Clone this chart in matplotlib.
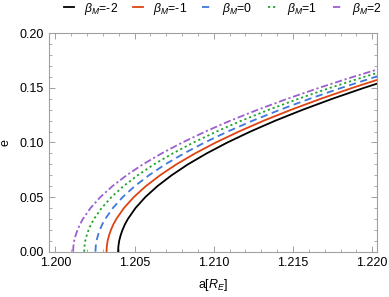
import matplotlib
matplotlib.use("Agg")
import matplotlib.pyplot as plt
from matplotlib.ticker import MultipleLocator

plt.rcParams['font.family'] = ['Liberation Sans', 'DejaVu Sans']
plt.rcParams['mathtext.fontset'] = 'custom'
plt.rcParams['mathtext.rm'] = 'Liberation Sans'
plt.rcParams['mathtext.it'] = 'Liberation Sans:italic'

# eccentricity levels (shared) and semi-major axis
e_vals = [0.0, 0.005, 0.01, 0.015, 0.02, 0.025, 0.03, 0.04, 0.05, 0.06, 0.07,
          0.08, 0.09, 0.10, 0.11, 0.12, 0.13, 0.14, 0.15, 0.16, 0.17]
a_m2 = [1.20396, 1.20398, 1.20403, 1.20412, 1.20424, 1.20439, 1.20458, 1.20506, 1.20568, 1.20644, 1.20734,
        1.20837, 1.20955, 1.21086, 1.21231, 1.21389, 1.21562, 1.21748, 1.21948, 1.22162, 1.22389]
a_m1 = [1.20323, 1.20325, 1.20330, 1.20339, 1.20351, 1.20366, 1.20385, 1.20433, 1.20495, 1.20571, 1.20661,
        1.20764, 1.20882, 1.21013, 1.21158, 1.21316, 1.21489, 1.21675, 1.21875, 1.22089, 1.22316]
a_0 = [1.20253, 1.20255, 1.20260, 1.20269, 1.20281, 1.20296, 1.20315, 1.20363, 1.20425, 1.20501, 1.20591,
       1.20694, 1.20812, 1.20943, 1.21088, 1.21246, 1.21419, 1.21605, 1.21805, 1.22019, 1.22246]
a_p1 = [1.20182, 1.20184, 1.20189, 1.20198, 1.20210, 1.20225, 1.20244, 1.20292, 1.20354, 1.20430, 1.20520,
        1.20623, 1.20741, 1.20872, 1.21017, 1.21175, 1.21348, 1.21534, 1.21734, 1.21948, 1.22175]
a_p2 = [1.20112, 1.20114, 1.20119, 1.20128, 1.20140, 1.20155, 1.20174, 1.20222, 1.20284, 1.20360, 1.20450,
        1.20553, 1.20671, 1.20802, 1.20947, 1.21105, 1.21278, 1.21464, 1.21664, 1.21878, 1.22105]

labels = [r'$\beta_M$=-2', r'$\beta_M$=-1', r'$\beta_M$=0', r'$\beta_M$=1', r'$\beta_M$=2']
colors = ['black', '#DD4411', '#3F78DD', '#22A32A', '#9B5FD0']
styles = ['-', '-', (0, (4, 2.5)), (0, (1.2, 1.6)), (0, (4, 1.5, 1.2, 1.5))]

fig = plt.figure(figsize=(3.89, 2.97), dpi=100)
ax = fig.add_axes([0.126, 0.1525, 0.843, 0.7355])

for a, lab, c, ls in zip([a_m2, a_m1, a_0, a_p1, a_p2], labels, colors, styles):
    ax.plot(a, e_vals, color=c, ls=ls, lw=1.3, label=lab)

ax.set_xlim(1.1996, 1.2203)
ax.set_ylim(0, 0.2)
ax.xaxis.set_major_locator(MultipleLocator(0.005))
ax.xaxis.set_minor_locator(MultipleLocator(0.001))
ax.yaxis.set_major_locator(MultipleLocator(0.05))
ax.yaxis.set_minor_locator(MultipleLocator(0.01))
ax.xaxis.set_major_formatter(plt.FormatStrFormatter('%.3f'))
ax.yaxis.set_major_formatter(plt.FormatStrFormatter('%.2f'))
ax.tick_params(which='both', direction='in', top=True, right=True, color='#A0A0A0', labelsize=9)
ax.tick_params(which='major', length=4, width=0.7)
ax.tick_params(which='minor', length=2, width=0.6)
for s in ax.spines.values():
    s.set_color('#A0A0A0')
    s.set_linewidth(0.8)

ax.set_xlabel(r'a[$R_E$]', fontsize=9, labelpad=6)
ax.set_ylabel('e', fontsize=9, labelpad=6)

fig.legend(loc='upper center', bbox_to_anchor=(0.574, 1.035), ncol=5, frameon=False,
           fontsize=8.8, handlelength=0.8, handletextpad=0.8, columnspacing=1.25)

fig.savefig('out.png', dpi=100)
